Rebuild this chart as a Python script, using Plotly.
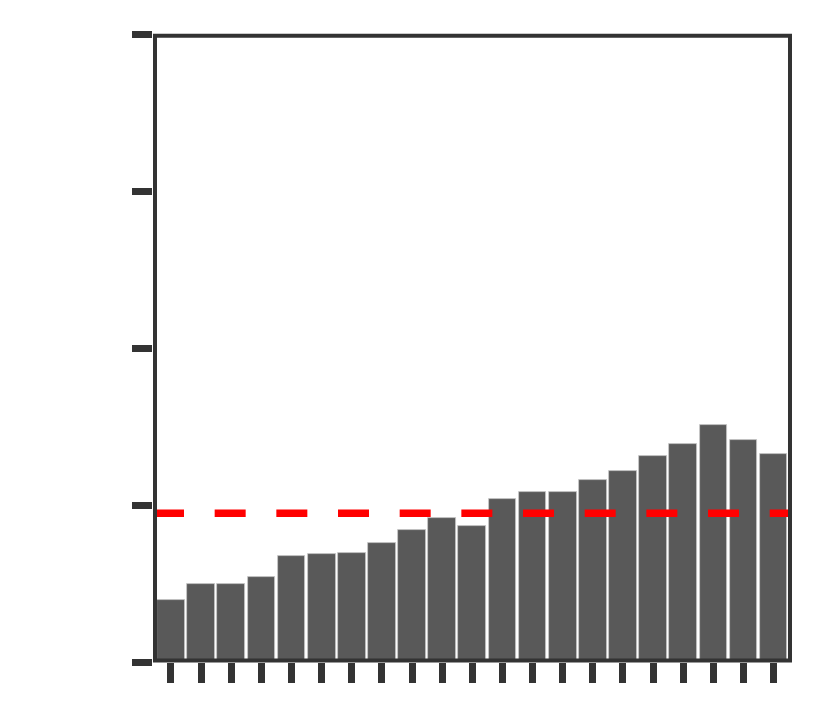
import plotly.graph_objects as go

categories = [str(i) for i in range(1, 22)]
values = [0.396, 0.494, 0.498, 0.543, 0.678, 0.689, 0.697, 0.761, 0.840, 0.916,
          0.869, 1.039, 1.084, 1.080, 1.160, 1.218, 1.313, 1.390, 1.511, 1.417, 1.326]
reference_level = 0.947
y_ticks = [0, 1, 2, 3, 4]

fig = go.Figure()
fig.add_trace(go.Bar(
    x=categories, y=values, width=0.92,
    marker=dict(color="#595959", line=dict(color="#c8c8c8", width=0.8)),
    showlegend=False, hoverinfo="skip",
))

# dashed reference line across the panel
fig.add_shape(type="line", xref="x domain", yref="y",
              x0=0, x1=1, y0=reference_level, y1=reference_level,
              line=dict(color="#ff0000", width=7.5, dash="31px,30.67px"),
              layer="above")
# panel border drawn on top
fig.add_shape(type="rect", xref="x domain", yref="y domain",
              x0=0.00313, x1=0.99687, y0=0.0024, y1=0.9971,
              line=dict(color="#333333", width=4), fillcolor="rgba(0,0,0,0)",
              layer="above")

axis_common = dict(showline=False, ticks="outside", ticklen=20, tickwidth=7,
                   tickcolor="#333333", showticklabels=False, showgrid=False,
                   zeroline=False)

fig.update_layout(
    width=830, height=722,
    margin=dict(l=145.3, r=45.7, t=25.5, b=68, pad=0),
    paper_bgcolor="white", plot_bgcolor="white",
    bargap=0,
    xaxis=dict(type="category", range=[-0.597, 20.61], **axis_common),
    yaxis=dict(range=[0, 4], tickvals=y_ticks, **axis_common),
)

fig.write_html("out.html")
